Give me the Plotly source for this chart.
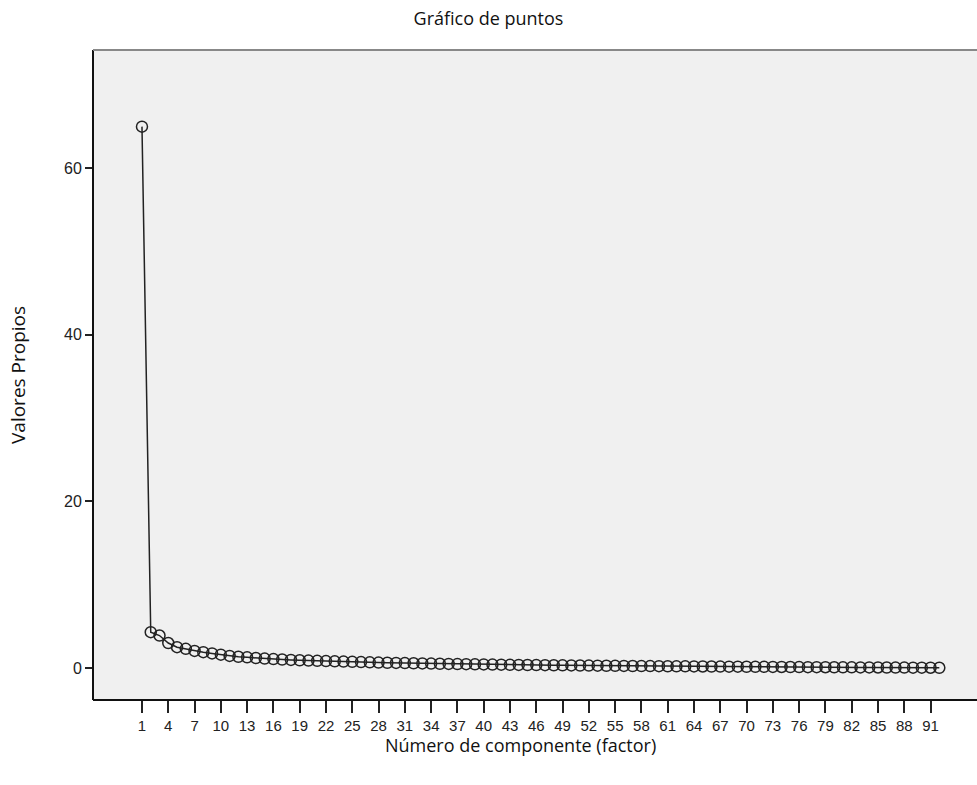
import plotly.graph_objects as go

components = list(range(1, 93))
eigenvalues = [
    65.0, 4.3, 3.9, 3.0, 2.5, 2.3, 2.05, 1.9, 1.75, 1.6,
    1.45, 1.35, 1.28, 1.2, 1.13, 1.07, 1.02, 0.97, 0.93, 0.89,
    0.86, 0.83, 0.80, 0.77, 0.74, 0.71, 0.68, 0.65, 0.63, 0.61,
    0.59, 0.57, 0.55, 0.53, 0.51, 0.49, 0.47, 0.46, 0.44, 0.43,
    0.41, 0.40, 0.38, 0.37, 0.36, 0.35, 0.34, 0.33, 0.32, 0.31,
    0.30, 0.29, 0.28, 0.27, 0.26, 0.25, 0.24, 0.235, 0.23, 0.22,
    0.21, 0.205, 0.20, 0.19, 0.185, 0.18, 0.17, 0.165, 0.16, 0.15,
    0.145, 0.14, 0.13, 0.125, 0.12, 0.11, 0.105, 0.10, 0.095, 0.09,
    0.085, 0.08, 0.075, 0.07, 0.065, 0.06, 0.055, 0.05, 0.045, 0.04,
    0.035, 0.03,
]
x_ticks = list(range(1, 92, 3))
y_ticks = [0, 20, 40, 60]

fig = go.Figure()
fig.add_trace(go.Scatter(
    x=components, y=eigenvalues, mode="lines+markers",
    line=dict(color="#222222", width=1.5),
    marker=dict(symbol="circle-open", size=11, color="#222222", line=dict(width=1.5)),
    showlegend=False,
))

fig.update_layout(
    width=977, height=785,
    margin=dict(l=93, r=0, t=50, b=85, autoexpand=False),
    paper_bgcolor="white", plot_bgcolor="#f0f0f0",
    title=dict(text="Gráfico de puntos", x=0.5, xanchor="center", y=1 - 19 / 785, yanchor="middle",
               font=dict(family="Open Sans", size=18, color="#111111")),
    xaxis=dict(range=[-4.59, 96.3], tickvals=x_ticks, ticktext=[str(v) for v in x_ticks],
               tickangle=0,
               showgrid=False, zeroline=False, ticks="outside", ticklen=12, tickwidth=1.5,
               tickcolor="#222222",
               tickfont=dict(family="Liberation Sans Narrow, Liberation Sans", size=15, color="#222222"),
               showline=False),
    yaxis=dict(range=[-3.84, 74.2], tickvals=y_ticks, showgrid=False, zeroline=False,
               ticks="outside", ticklen=7, tickwidth=1.5, tickcolor="#222222",
               tickfont=dict(family="Liberation Sans", size=16, color="#222222"), showline=False),
    font=dict(family="Open Sans"),
)

# frame lines
fig.add_shape(type="line", xref="paper", yref="paper", x0=0, x1=0, y0=0, y1=1,
              line=dict(color="#111111", width=2))
fig.add_shape(type="line", xref="paper", yref="paper", x0=0, x1=1, y0=0, y1=0,
              line=dict(color="#111111", width=2))
fig.add_shape(type="line", xref="paper", yref="paper", x0=0, x1=1, y0=1, y1=1,
              line=dict(color="#888888", width=2))

fig.add_annotation(text="Número de componente (factor)", xref="paper", yref="paper",
                   x=(520 - 93) / (977 - 93), y=-(745 - 700) / 650, xanchor="center", yanchor="middle",
                   showarrow=False, font=dict(family="Open Sans", size=18, color="#111111"))
fig.add_annotation(text="Valores Propios", xref="paper", yref="paper",
                   x=-(93 - 18) / 884, y=0.5, textangle=-90, xanchor="center", yanchor="middle",
                   showarrow=False, font=dict(family="Open Sans", size=19, color="#111111"))

fig.write_html("out.html", config={"displayModeBar": False},
               post_script="document.body.style.margin='0';document.body.style.overflow='hidden';")
